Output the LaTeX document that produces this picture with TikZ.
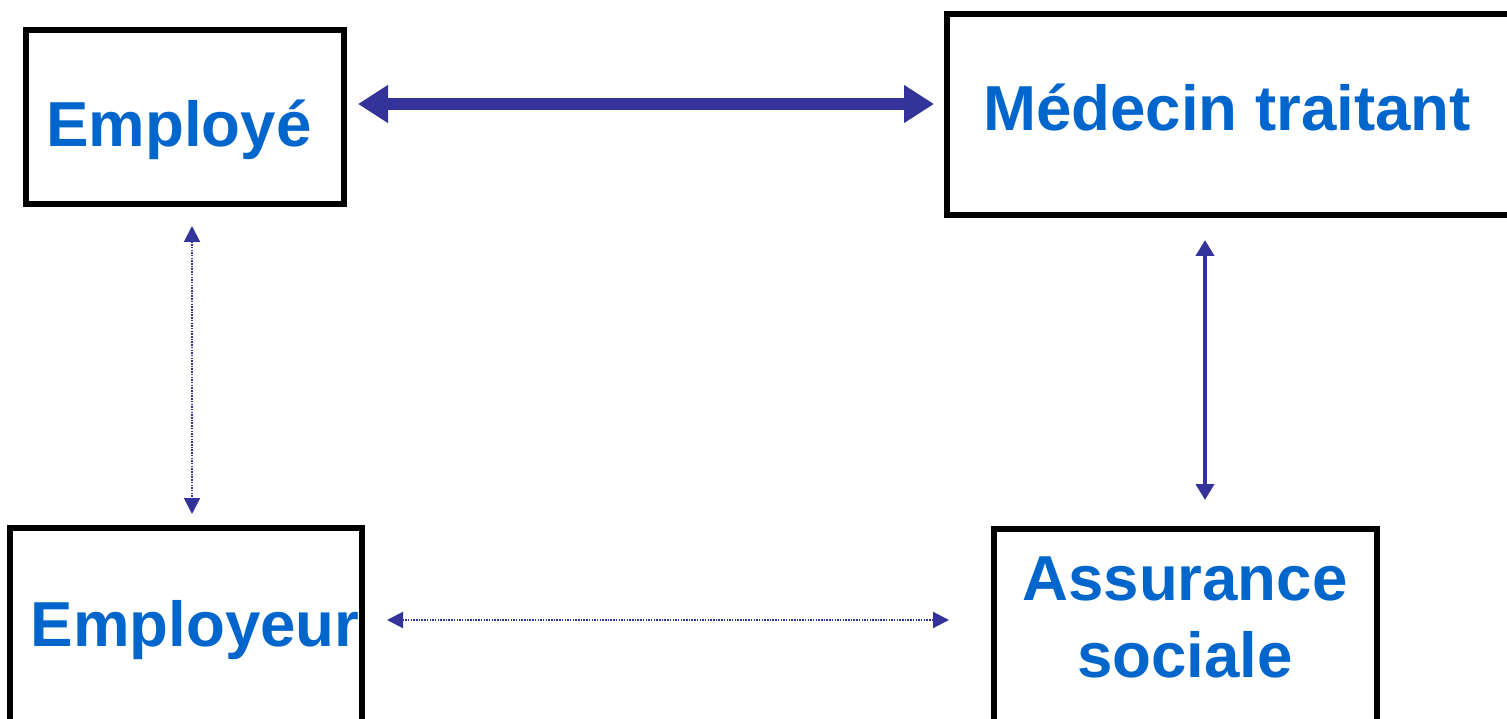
\documentclass[tikz,border=0pt]{standalone}
\usepackage{fontspec}
\setmainfont{Liberation Sans}
\usetikzlibrary{arrows.meta}
\definecolor{arrowblue}{HTML}{333399}
\definecolor{textblue}{HTML}{0066CC}
\tikzset{
  box/.style={draw=black, line width=5.5pt, rectangle, inner sep=0pt},
  lbl/.style={text=textblue, font=\fontsize{63.6}{76}\selectfont\bfseries, anchor=base, inner sep=0pt},
  thickarrow/.style={draw=arrowblue, line width=12pt, {Triangle[length=30pt,width=36pt]}-{Triangle[length=30pt,width=36pt]}},
  medarrow/.style={draw=arrowblue, line width=4.8pt, {Triangle[length=16pt,width=18pt]}-{Triangle[length=16pt,width=18pt]}},
  dotarrow/.style={draw=arrowblue, line width=2pt, dash pattern=on 1.5pt off 1.2pt, {Triangle[length=16pt,width=16pt]}-{Triangle[length=16pt,width=16pt]}}
}
\begin{document}
\begin{tikzpicture}[x=1pt,y=-1pt]
\useasboundingbox (0,0) rectangle (1507,719);
% boxes
\draw[box] (26,30) rectangle (344,204);
\draw[box] (947,14) rectangle (1520,215);
\draw[box] (10,528) rectangle (362,740);
\draw[box] (994,529) rectangle (1377,740);
% labels
\node[lbl] (employe) at (179,147) {Employé};
\node[lbl] (medecin) at (1227,131) {Médecin traitant};
\node[lbl] (employeur) at (195,646) {Employeur};
\node[lbl] (assurance) at (1185,600) {Assurance};
\node[lbl] (sociale) at (1185,677) {sociale};
% arrow endpoints
\coordinate (a1) at (358,104);
\coordinate (a2) at (934,104);
\coordinate (b1) at (1205,240);
\coordinate (b2) at (1205,500);
\coordinate (c1) at (192,226);
\coordinate (c2) at (192,514);
\coordinate (d1) at (387,620);
\coordinate (d2) at (949,620);
% connectors
\draw[thickarrow] (a1) -- (a2);
\draw[medarrow] (b1) -- (b2);
\draw[dotarrow] (c1) -- (c2);
\draw[dotarrow] (d1) -- (d2);
\end{tikzpicture}
\end{document}
